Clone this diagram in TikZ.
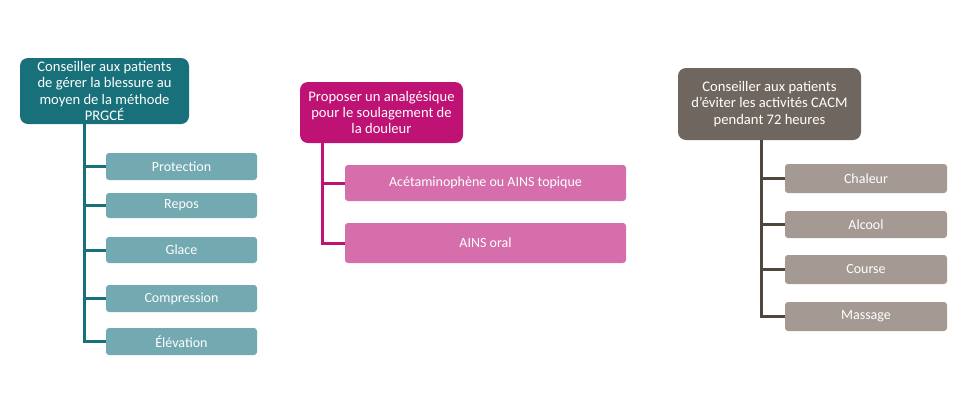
\documentclass[tikz,border=0pt]{standalone}
\usepackage{fontspec}
\setmainfont{Carlito}
\usetikzlibrary{positioning}
\definecolor{prgceTeal}{RGB}{23,112,122}
\definecolor{prgceLight}{RGB}{115,169,176}
\definecolor{painMagenta}{RGB}{190,18,116}
\definecolor{painLight}{RGB}{214,110,171}
\definecolor{avoidBrown}{RGB}{112,102,96}
\definecolor{avoidLight}{RGB}{164,154,147}
\definecolor{avoidLine}{RGB}{79,70,62}
\tikzset{
  hdrBox/.style={rectangle,rounded corners=8pt,fill=#1,text=white,align=center,
                 inner sep=2pt,font=\fontsize{14.6}{16.2}\selectfont},
  itemBox/.style={rectangle,rounded corners=3pt,fill=#1,text=white,align=center,
                  inner sep=2pt,font=\fontsize{14}{16}\selectfont},
  treeLine/.style={line width=3pt,draw=#1},
}
\begin{document}
\begin{tikzpicture}[x=1pt,y=-1pt]
  \useasboundingbox (0,0) rectangle (970,416);
  % PRGCE column
  \node[hdrBox=prgceTeal,minimum width=169pt,minimum height=66pt](tHead) at (104.5,91)
      {Conseiller aux patients\\de gérer la blessure au\\moyen de la méthode\\PRGCÉ};
  \coordinate (tTrunk) at (84,124);
  \foreach \n/\y/\h/\t in {tProt/166.5/27/Protection, tRepos/205.5/25/Repos,
                           tGlace/250/26/Glace, tComp/298.5/27/Compression,
                           tElev/341.5/27/Élévation}{
    \node[itemBox=prgceLight,minimum width=151pt,minimum height=\h pt](\n) at (181.5,\y){\t};
    \draw[treeLine=prgceTeal](tTrunk) |- (\n.west);
  }
  % analgesique column
  \node[hdrBox=painMagenta,minimum width=163pt,minimum height=61pt](pHead) at (381.5,112.5)
      {Proposer un analgésique\\pour le soulagement de\\la douleur};
  \coordinate (pTrunk) at (322,143);
  \node[itemBox=painLight,minimum width=281pt,minimum height=36pt](pTopic) at (485.5,183)
      {Acétaminophène ou AINS topique};
  \node[itemBox=painLight,minimum width=281pt,minimum height=40pt](pOral) at (485.5,243)
      {AINS oral};
  \foreach \n in {pTopic,pOral}{
    \draw[treeLine=painMagenta](pTrunk) |- (\n.west);
  }
  % CACM column
  \node[hdrBox=avoidBrown,minimum width=183pt,minimum height=72pt](cHead) at (769.5,104)
      {Conseiller aux patients\\d’éviter les activités CACM\\pendant 72 heures};
  \coordinate (cTrunk) at (761,140);
  \foreach \n/\y/\h/\t in {cChal/178.5/29/Chaleur, cAlc/224.5/27/Alcool,
                           cCourse/269.5/29/Course, cMass/316.5/29/Massage}{
    \node[itemBox=avoidLight,minimum width=162pt,minimum height=\h pt](\n) at (866,\y){\t};
    \draw[treeLine=avoidLine](cTrunk) |- (\n.west);
  }
\end{tikzpicture}
\end{document}
